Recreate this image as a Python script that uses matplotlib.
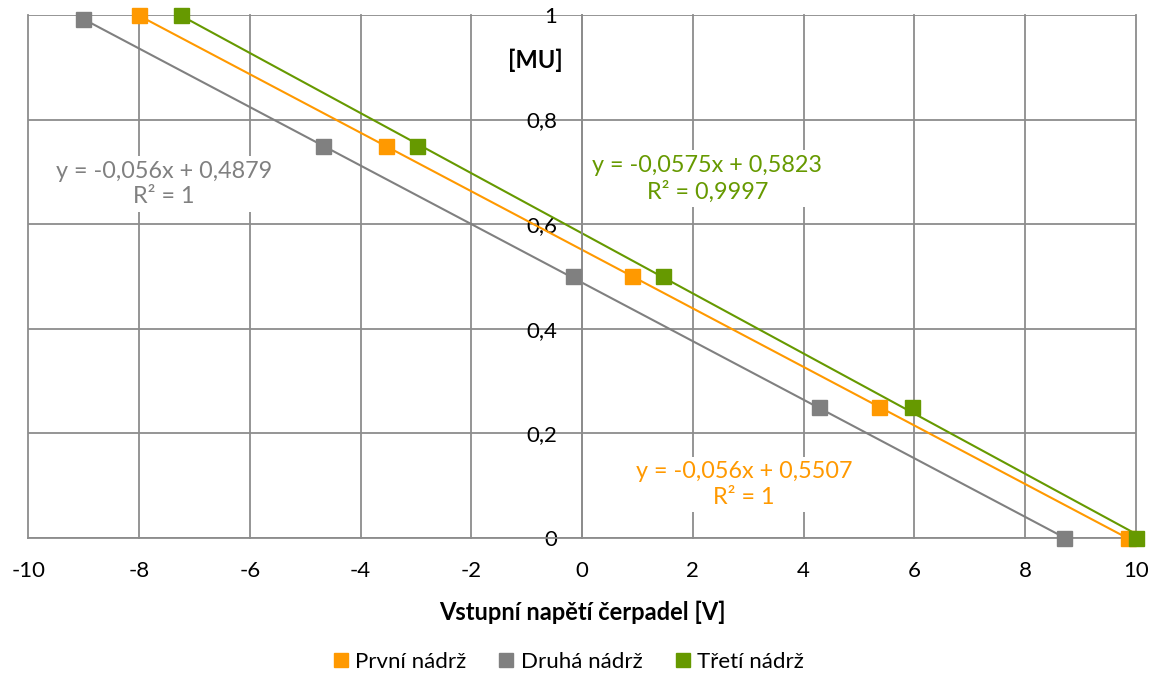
import numpy as np
import matplotlib
matplotlib.use("Agg")
import matplotlib.pyplot as plt
from matplotlib.ticker import FuncFormatter

plt.rcParams["font.family"] = ["Lato", "DejaVu Sans"]

# Hladina v nádržích [MU] pro napětí čerpadel [V]
uroven = [1.0, 0.75, 0.5, 0.25, 0.0]
prvni_x = [-8.0, -3.54, 0.90, 5.37, 9.86]
druha_x = [-9.02, -4.68, -0.16, 4.27, 8.71]
druha_y = [0.992, 0.75, 0.5, 0.25, 0.0]
treti_x = [-7.25, -2.98, 1.47, 5.96, 10.0]

# koeficienty lineárních spojnic trendu (směrnice, posun, R²)
trend_prvni = (-0.056, 0.5507, "1")
trend_druha = (-0.056, 0.4879, "1")
trend_treti = (-0.0575, 0.5823, "0,9997")

nazvy = ["První nádrž", "Druhá nádrž", "Třetí nádrž"]
barvy = ["#FF9900", "#808080", "#669900"]

x_ticks = np.arange(-10, 11, 2)
y_ticks = np.arange(0, 1.01, 0.2)

fig = plt.figure(figsize=(11.6, 6.75), dpi=100)
ax = fig.add_axes([0.0244, 0.2034, 0.9548, 0.7744])

serie = [
    (prvni_x, uroven, trend_prvni),
    (druha_x, druha_y, trend_druha),
    (treti_x, uroven, trend_treti),
]
for (xs, ys, (k, q, r2)), nazev, barva in zip(serie, nazvy, barvy):
    xt = np.array([min(xs), max(xs)])
    ax.plot(xt, k * xt + q, color=barva, lw=1.5, zorder=2)
    ax.plot(xs, ys, ls="none", marker="s", ms=10.8, color=barva,
            mec=barva, label=nazev, zorder=3, clip_on=False)


def cz(v, pos):
    return f"{v:g}".replace(".", ",")


ax.set_xlim(-10, 10)
ax.set_ylim(0, 1)
ax.set_xticks(x_ticks)
ax.set_yticks(y_ticks)
ax.xaxis.set_major_formatter(FuncFormatter(cz))
ax.yaxis.set_major_formatter(FuncFormatter(cz))
ax.tick_params(axis="both", length=0, labelsize=16, colors="black")
ax.tick_params(axis="x", pad=17)
ax.tick_params(axis="y", pad=18)
for lbl in ax.get_yticklabels():
    lbl.set_bbox(dict(facecolor="white", edgecolor="none",
                      boxstyle="square,pad=0.25"))

ax.grid(True, color="#8C8C8C", lw=1.3)
for gl in ax.get_xgridlines() + ax.get_ygridlines():
    gl.set_clip_on(False)

for s in ["top", "right"]:
    ax.spines[s].set_visible(False)
ax.spines["left"].set_position(("data", 0))
ax.spines["left"].set_color("#8C8C8C")
ax.spines["left"].set_linewidth(1.3)
ax.spines["bottom"].set_color("#8C8C8C")
ax.spines["bottom"].set_linewidth(1.3)

ax.set_xlabel("Vstupní napětí čerpadel [V]", fontsize=17,
              fontweight="bold", labelpad=14)
ax.set_ylabel("[MU]", fontsize=17, fontweight="bold", rotation=0,
              va="center", ha="center")
ax.yaxis.set_label_coords(-0.85, 0.914, transform=ax.transData)

# rovnice spojnic trendu
popisky = [
    (trend_prvni, 2.92, 0.102, barvy[0]),
    (trend_druha, -7.55, 0.677, barvy[1]),
    (trend_treti, 2.26, 0.687, barvy[2]),
]
for (k, q, r2), tx, ty, barva in popisky:
    txt = f"y = {k:g}x + {q:g}\nR² = {r2}".replace(".", ",")
    ax.text(tx, ty, txt, color=barva, fontsize=16.8, ha="center",
            va="center", linespacing=1.25, zorder=4,
            bbox=dict(facecolor="white", edgecolor="none",
                      boxstyle="square,pad=0.2"))

fig.legend(loc="center", bbox_to_anchor=(569 / 1160, 1 - 662 / 675),
           ncol=3, frameon=False, fontsize=16, markerscale=0.87,
           handlelength=0.6, handletextpad=0.35, columnspacing=1.5)

fig.savefig("out.png", dpi=100)
